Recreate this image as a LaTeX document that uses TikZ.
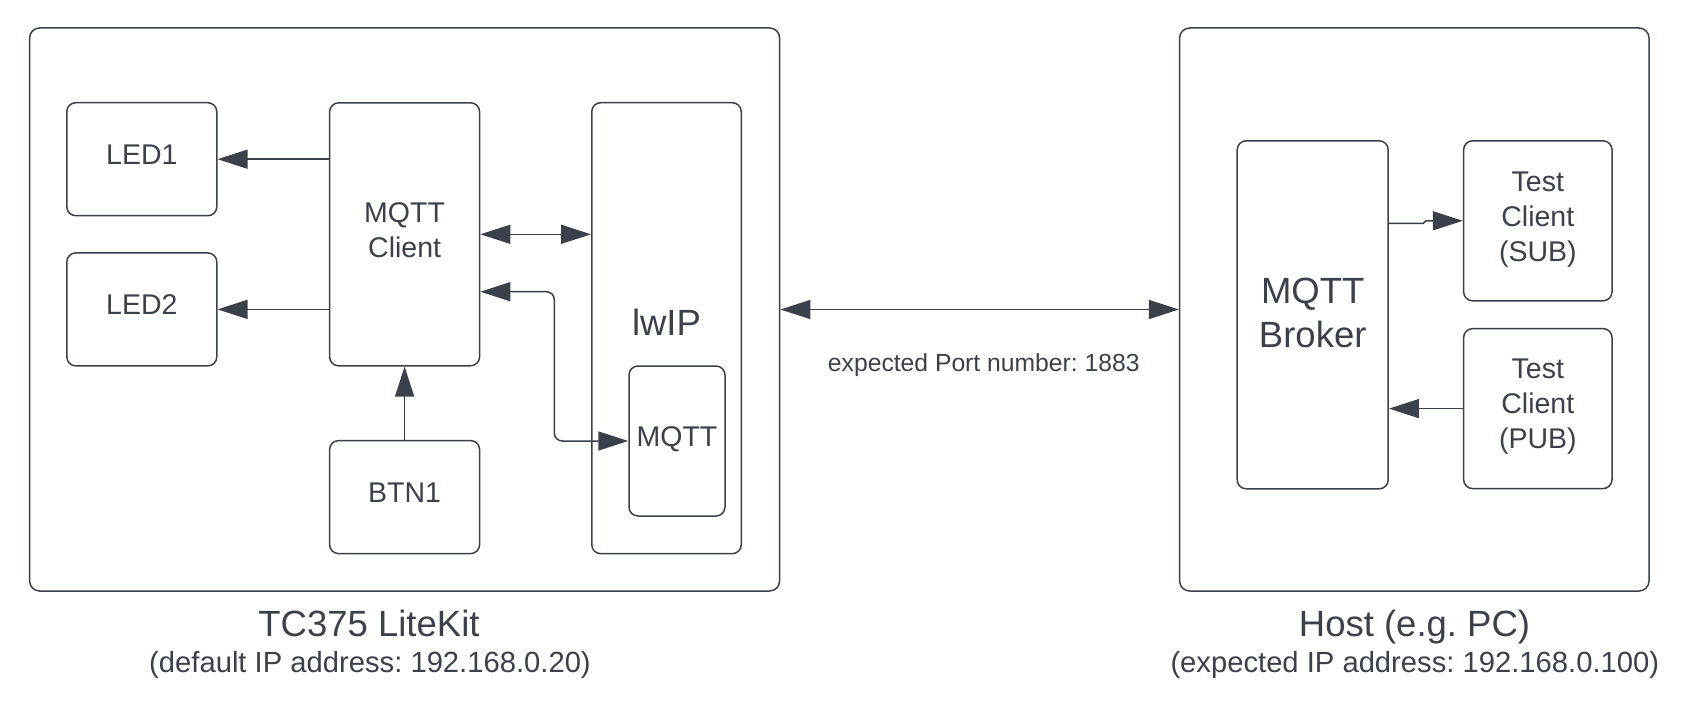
\documentclass[tikz,border=0pt]{standalone}
\usepackage{fontspec}
\setmainfont{Liberation Sans}
\usetikzlibrary{arrows.meta}
\definecolor{ink}{RGB}{58,65,75}
\frenchspacing

\begin{document}
\begin{tikzpicture}[x=1pt, y=-1pt, line width=1.5pt, color=ink,
  frame/.style={draw, rounded corners=10pt},
  box/.style={draw, rounded corners=9pt, align=center, inner sep=2pt,
    text depth=9pt, font=\fontsize{28.5}{35}\selectfont},
  bigbox/.style={box, text depth=11.5pt, font=\fontsize{36.5}{44}\selectfont},
  arr/.style={-{Triangle[length=30pt, width=19pt]}},
  link/.style={{Triangle[length=30pt, width=19pt]}-{Triangle[length=30pt, width=19pt]}}]

\useasboundingbox ( 0, 0 ) rectangle ( 1693, 709 );

% Board
\node (kit) at ( 404.6, 309.5 ) [frame, minimum width=750pt, minimum height=563pt] {};
\node (led1) at ( 141.8, 159.2 ) [box, minimum width=150pt, minimum height=113pt] {LED1};
\node (led2) at ( 141.8, 309.4 ) [box, minimum width=150pt, minimum height=113pt] {LED2};
\node (client) at ( 404.6, 234.3 ) [box, minimum width=150pt, minimum height=263pt] {MQTT\\Client};
\node (btn) at ( 404.6, 497.1 ) [box, minimum width=150pt, minimum height=113pt] {BTN1};
\node (lwip) at ( 666.5, 328.2 ) [bigbox, minimum width=149.5pt, minimum height=451pt] {lwIP};
\node (mqtt) at ( 677, 441 ) [box, minimum width=96pt, minimum height=150pt] {MQTT};

% Host
\node (host) at ( 1414.3, 309.5 ) [frame, minimum width=469.4pt, minimum height=563pt] {};
\node (broker) at ( 1312.7, 314.8 ) [bigbox, text depth=4pt, minimum width=151pt, minimum height=348pt] {MQTT\\Broker};
\node (sub) at ( 1537.8, 220.8 ) [box, minimum width=148.4pt, minimum height=160pt] {Test\\Client\\(SUB)};
\node (pub) at ( 1537.8, 408.6 ) [box, minimum width=148.4pt, minimum height=160pt] {Test\\Client\\(PUB)};

% Board connections
\path [arr] (client.west |- led1) edge (led1);
\path [arr] (client.west |- led2) edge (led2);
\path [arr] (btn) edge (client);
\path [link] (client.east) edge (client.east -| lwip.west);
\draw [link, rounded corners=8pt] (client.east |- 0, 291.7) -- ( 554.3, 291.7 ) -- ( 554.3, 441 ) -- (mqtt.west);

% Network link
\path [link] (kit) edge (host);
\node (port) at ( 983.8, 371.7 ) [anchor=base, font=\fontsize{24.7}{30}\selectfont] {expected Port number: 1883};

% Host connections
\draw [arr] (broker.east |- 0, 223.3) -- ( 1423.3, 223.3 ) -- ( 1426, 220.8 ) -- (sub.west);
\path [arr] (pub) edge (pub.west -| broker.east);

% Captions
\node (kitname) at ( 369, 636 ) [anchor=base, font=\fontsize{36.5}{44}\selectfont] {TC375 LiteKit};
\node (kitip) at ( 370, 672.7 ) [anchor=base, font=\fontsize{29.2}{35}\selectfont] {(default IP address: 192.168.0.20)};
\node (hostname) at ( 1414.5, 636 ) [anchor=base, font=\fontsize{36.5}{44}\selectfont] {Host (e.g. PC)};
\node (hostip) at ( 1414.8, 672.7 ) [anchor=base, font=\fontsize{29.2}{35}\selectfont] {(expected IP address: 192.168.0.100)};

\end{tikzpicture}
\end{document}
